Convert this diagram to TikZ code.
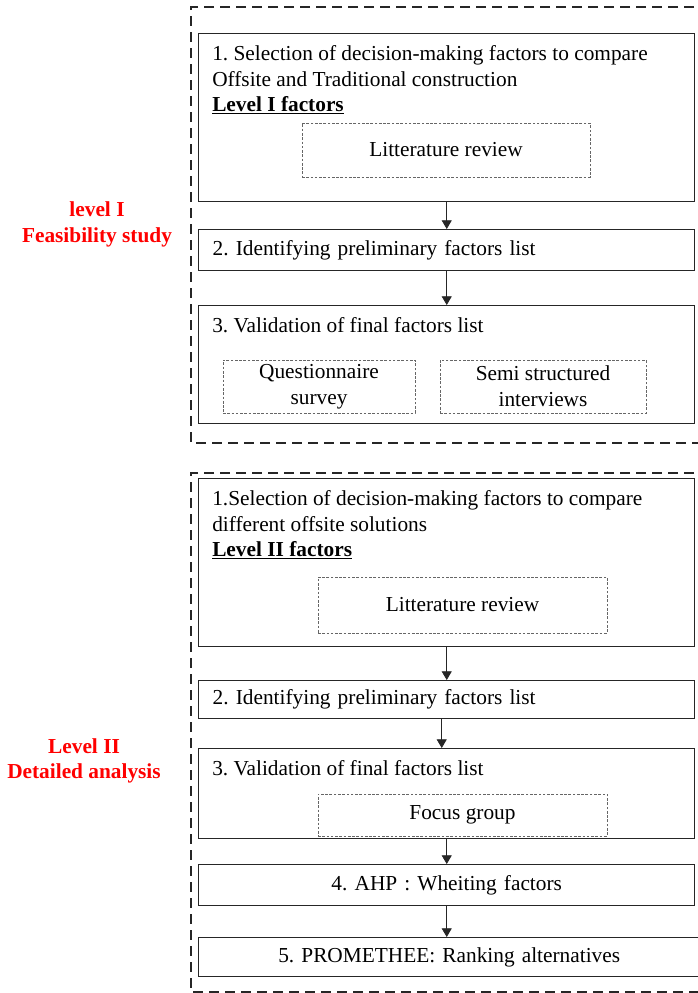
\documentclass[tikz,border=0pt]{standalone}
\usepackage{fontspec}
\setmainfont{Liberation Serif}
\usetikzlibrary{arrows.meta}
\frenchspacing

\tikzset{
    levelframe/.style={draw=black!85, line width=1.1pt, dash pattern=on 7.5pt off 4.5pt},
    stagebox/.style={draw=black!85, line width=1.1pt, anchor=north west, minimum width=372pt, inner sep=0pt},
    stagetext/.style={stagebox, inner xsep=10.5pt, text width=351pt, align=left},
    sourcebox/.style={draw=black!60, line width=0.5pt, dash pattern=on 2pt off 1.2pt, align=center, inner sep=0pt},
    linetext/.style={anchor=base west, inner sep=0pt},
    phaselabel/.style={text=red, font=\fontsize{16pt}{19pt}\selectfont\bfseries, align=center},
    flow/.style={-{Triangle[length=6.5pt, width=7.5pt]}, line width=0.6pt, black!85}
}

\begin{document}
\begin{tikzpicture}[x=0.75pt, y=-0.75pt, font=\fontsize{16pt}{19.5pt}\selectfont]
    %\draw[lightgray] (0, 0) grid[step=50] (697, 993);
    \useasboundingbox (0, 0) rectangle (697, 993);

    % level I
    \draw[levelframe] (710, 7) -- (191, 7) -- (191, 443) -- (710, 443);
    \node[phaselabel] (phaseA) at (97, 224.5) {level I\\Feasibility study};

    \node[stagebox, minimum height=126pt] (selA) at (198, 33) {};
    \node[linetext] (selAone) at (212, 60) {1. Selection of decision-making factors to compare};
    \node[linetext] (selAtwo) at (212, 86) {Offsite and Traditional construction};
    \node[linetext] (selAthree) at (212, 111) {\textbf{\underline{Level I factors}}};
    \node[sourcebox, minimum width=216pt, minimum height=40.5pt] (litA) at (446, 150) {Litterature review};

    \node[stagetext, minimum height=30.75pt] (idA) at (198, 229) {2. Identifying preliminary factors list};

    \node[stagebox, minimum height=88.5pt] (valA) at (198, 305) {};
    \node[linetext] (valAone) at (212, 332) {3. Validation of final factors list};
    \node[sourcebox, minimum width=144pt, minimum height=39.75pt] (questA) at (319, 386.5) {Questionnaire\\survey};
    \node[sourcebox, minimum width=154.5pt, minimum height=39.75pt] (semiA) at (543, 386.5) {Semi structured\\interviews};

    \draw[flow] (selA.south) -- (idA.north);
    \draw[flow] (idA.south) -- (valA.north);

    % level II
    \draw[levelframe] (710, 473) -- (191, 473) -- (191, 992) -- (710, 992);
    \node[phaselabel] (phaseB) at (84, 761) {Level II\\Detailed analysis};

    \node[stagebox, minimum height=126pt] (selB) at (198, 478) {};
    \node[linetext] (selBone) at (212, 505) {1.Selection of decision-making factors to compare};
    \node[linetext] (selBtwo) at (212, 531) {different offsite solutions};
    \node[linetext] (selBthree) at (212, 556) {\textbf{\underline{Level II factors}}};
    \node[sourcebox, minimum width=216.75pt, minimum height=42pt] (litB) at (462.5, 605) {Litterature review};

    \node[stagetext, minimum height=28.5pt] (idB) at (198, 680) {2. Identifying preliminary factors list};

    \node[stagebox, minimum height=67.5pt] (valB) at (198, 748) {};
    \node[linetext] (valBone) at (212, 775) {3. Validation of final factors list};
    \node[sourcebox, minimum width=216.75pt, minimum height=31.5pt] (focusB) at (462.5, 815) {Focus group};

    \node[stagetext, align=center, minimum height=30.75pt] (ahpB) at (198, 864) {4. AHP : Wheiting factors};
    \node[stagetext, align=center, minimum width=375.75pt, text width=354.75pt, minimum height=29.25pt] (promB) at (198, 937) {5. PROMETHEE: Ranking alternatives};

    \draw[flow] (selB.south) -- (idB.north);
    \draw[flow] ([xshift=-3.75pt]idB.south) -- ([xshift=-3.75pt]valB.north);
    \draw[flow] (valB.south) -- (ahpB.north);
    \draw[flow] (ahpB.south) -- (ahpB.south |- promB.north);
\end{tikzpicture}
\end{document}
